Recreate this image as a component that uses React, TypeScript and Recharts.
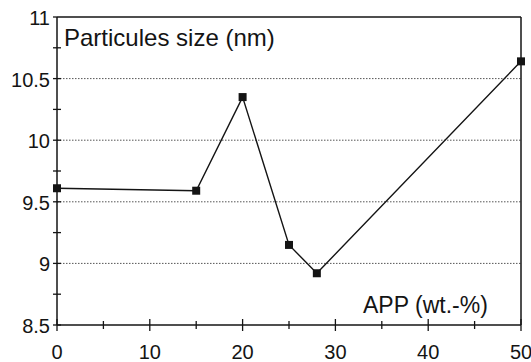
import React from 'react';
import { LineChart, Line, XAxis, YAxis, ReferenceLine, Customized } from 'recharts';

// APP content (wt.-%) and the measured particle size (nm)
const appContent = [0, 15, 20, 25, 28, 50];
const particleSize = [9.61, 9.59, 10.35, 9.15, 8.92, 10.64];

const xTicks = [0, 5, 10, 15, 20, 25, 30, 35, 40, 45, 50];
const xTickLabels = [0, 10, 20, 30, 40, 50];
const yTicks = [8.5, 8.75, 9, 9.25, 9.5, 9.75, 10, 10.25, 10.5, 10.75, 11];
const yTickLabels = [8.5, 9, 9.5, 10, 10.5, 11];
const gridValues = [9, 9.5, 10, 10.5];

const data = appContent.map((x, i) => ({ x, size: particleSize[i] }));

const FONT = '"Liberation Sans", Arial, sans-serif';
const INK = '#141414';

const XTick = (props: any) => {
  const { x, y, payload } = props;
  const v = payload.value;
  const labeled = xTickLabels.includes(v);
  const len = labeled ? 6 : 4;
  return (
    <g>
      <line x1={x} x2={x} y1={y - len} y2={y + len} stroke={INK} strokeWidth={1.3} />
      {labeled && (
        <text x={x} y={y + 34} textAnchor="middle" fontSize={20} fontFamily={FONT} fill={INK}>
          {String(v)}
        </text>
      )}
    </g>
  );
};

const YTick = (props: any) => {
  const { x, y, payload } = props;
  const v = payload.value;
  const labeled = yTickLabels.includes(v);
  return (
    <g>
      <line x1={x - 4} x2={v === 11 ? x : x + 4} y1={y} y2={y} stroke={INK} strokeWidth={1.3} />
      {labeled && (
        <text x={x - 7} y={y + 8} textAnchor="end" fontSize={20} fontFamily={FONT} fill={INK}>
          {String(v)}
        </text>
      )}
    </g>
  );
};

const SquareDot = (props: any) => {
  const { cx, cy, index } = props;
  return <rect key={`dot-${index}`} x={cx - 4} y={cy - 4} width={8} height={8} fill={INK} />;
};

const Titles = () => (
  <g fontFamily={FONT} fill={INK}>
    <text x={64} y={46} fontSize={24}>Particules size (nm)</text>
    <text x={363} y={313} fontSize={23}>APP (wt.-%)</text>
  </g>
);

export default function App() {
  return (
    <div style={{ position: 'absolute', left: 0, top: 0, background: '#fff' }}>
      <LineChart
        width={531}
        height={362}
        data={data}
        margin={{ top: 17, right: 10, left: 0, bottom: 0 }}
      >
        <XAxis
          dataKey="x"
          type="number"
          domain={[0, 50]}
          ticks={xTicks}
          interval={0}
          height={37}
          tickSize={0}
          tickMargin={0}
          tickLine={false}
          axisLine={{ stroke: INK, strokeWidth: 1.5 }}
          tick={<XTick />}
        />
        <YAxis
          type="number"
          domain={[8.5, 11]}
          ticks={yTicks}
          interval={0}
          width={57}
          tickSize={0}
          tickMargin={0}
          tickLine={false}
          axisLine={{ stroke: INK, strokeWidth: 1.5 }}
          tick={<YTick />}
        />
        {gridValues.map((v) => (
          <ReferenceLine key={v} y={v} stroke="#555" strokeWidth={1} strokeDasharray="1.5 1.5" />
        ))}
        <ReferenceLine y={11} stroke={INK} strokeWidth={1.5} />
        <ReferenceLine x={50} stroke={INK} strokeWidth={1.5} />
        <Line
          type="linear"
          dataKey="size"
          stroke={INK}
          strokeWidth={1.4}
          dot={SquareDot}
          activeDot={false}
          isAnimationActive={false}
        />
        <Customized component={Titles} />
      </LineChart>
    </div>
  );
}
